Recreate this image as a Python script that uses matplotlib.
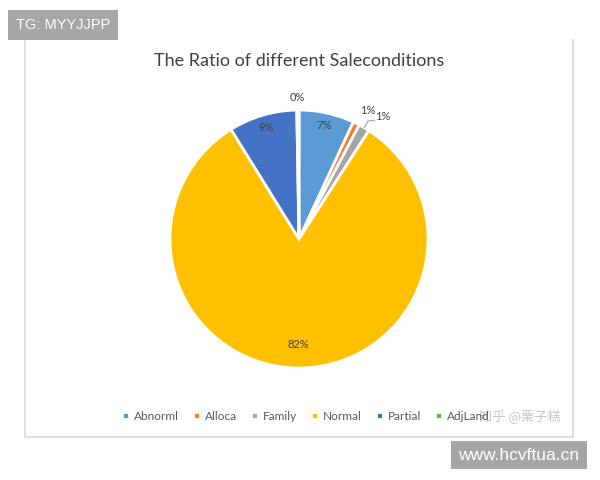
import numpy as np
import matplotlib.pyplot as plt
from matplotlib.lines import Line2D

# Data: SaleCondition counts
labels = ['Abnorml', 'Alloca', 'Family', 'Normal', 'Partial', 'AdjLand']
counts = [101, 12, 20, 1198, 125, 4]
colors = ['#5B9BD5', '#ED7D31', '#A5A5A5', '#FFC000', '#4472C4', '#70AD47']
legend_names = ['Abnorml', 'Alloca', 'Family', 'Normal', 'Partial', 'AdjLand']

plt.rcParams['font.family'] = ['Lato', 'Noto Sans CJK SC', 'DejaVu Sans']

fig = plt.figure(figsize=(6, 4.8), dpi=100)
fig.patch.set_facecolor('white')

# chart frame (left, bottom, right border)
fx0, fx1, fy0, fy1 = 25/600, 573/600, 1-437/480, 1-40/480
fig.add_artist(Line2D([fx0, fx0, fx1, fx1], [fy1, fy0, fy0, fy1], transform=fig.transFigure,
                      color='#d9d9d9', lw=1.2))

R = 129
ax = fig.add_axes([(299-R)/600, 1-(239+R)/480, 2*R/600, 2*R/480])
wedges, _ = ax.pie(counts, colors=colors, startangle=90, counterclock=False,
                   wedgeprops=dict(edgecolor='white', linewidth=2))
ax.set_aspect('equal')
ax.set_xlim(-1, 1)
ax.set_ylim(-1, 1)
ax.axis('off')

total = float(sum(counts))
tc = '#404040'
for w, c in zip(wedges, counts):
    pct = '%d%%' % round(100 * c / total)
    mid = np.deg2rad((w.theta1 + w.theta2) / 2)
    share = c / total
    if share > 0.05:
        d = 0.82 if share > 0.5 else 0.9
        ax.text(d*np.cos(mid), d*np.sin(mid), pct, ha='center', va='center',
                fontsize=8, color=tc)
    elif share < 0.005:
        ax.text(1.1*np.cos(mid), 1.1*np.sin(mid), pct, ha='center', va='center',
                fontsize=8, color=tc, clip_on=False)
# small slices: labels outside
alo = wedges[1]
m = np.deg2rad((alo.theta1 + alo.theta2) / 2)
ax.text(1.13*np.cos(m-0.03), 1.13*np.sin(m-0.03), '%d%%' % round(100*counts[1]/total),
        ha='center', va='center', fontsize=8, color=tc, clip_on=False)
fam = wedges[2]
m = np.deg2rad((fam.theta1 + fam.theta2) / 2)
ax.text(1.15*np.cos(m-0.07), 1.15*np.sin(m-0.07), '%d%%' % round(100*counts[2]/total),
        ha='center', va='center', fontsize=8, color=tc, clip_on=False)
ax.plot([np.cos(m)*1.0, np.cos(m)*1.06, np.cos(m)*1.06+0.05],
        [np.sin(m)*1.0, np.sin(m)*1.06, np.sin(m)*1.06+0.005],
        color='#a6a6a6', lw=0.8, clip_on=False)

fig.text(299/600, 1-61/480, 'The Ratio of different Saleconditions', ha='center', va='center',
         fontsize=13, color='#404040')

fig.legend(wedges, legend_names, loc='center', bbox_to_anchor=(306/600, 1-416/480),
           ncol=6, frameon=False, fontsize=8.5, handlelength=0.6, handleheight=0.6,
           handletextpad=0.4, columnspacing=1.2, labelcolor='#595959')

# watermarks
fig.text(520/600, 1-416/480, '知乎 @栗子糕', ha='center', va='center', fontsize=9.5,
         color='#c8c8c8', family=['Noto Sans CJK SC', 'DejaVu Sans'])
fig.text(63/600, 1-25/480, 'TG: MYYJJPP', ha='center', va='center', fontsize=10.5,
         color='white', family=['Liberation Sans'],
         bbox=dict(boxstyle='square,pad=0.55', facecolor='#a6a6a6', edgecolor='none'))
fig.text(519/600, 1-455/480, 'www.hcvftua.cn', ha='center', va='center', fontsize=12.5,
         color='white', family=['Liberation Sans'],
         bbox=dict(boxstyle='square,pad=0.4', facecolor='#a6a6a6', edgecolor='none'))

fig.savefig('out.png', dpi=100, facecolor='white')
